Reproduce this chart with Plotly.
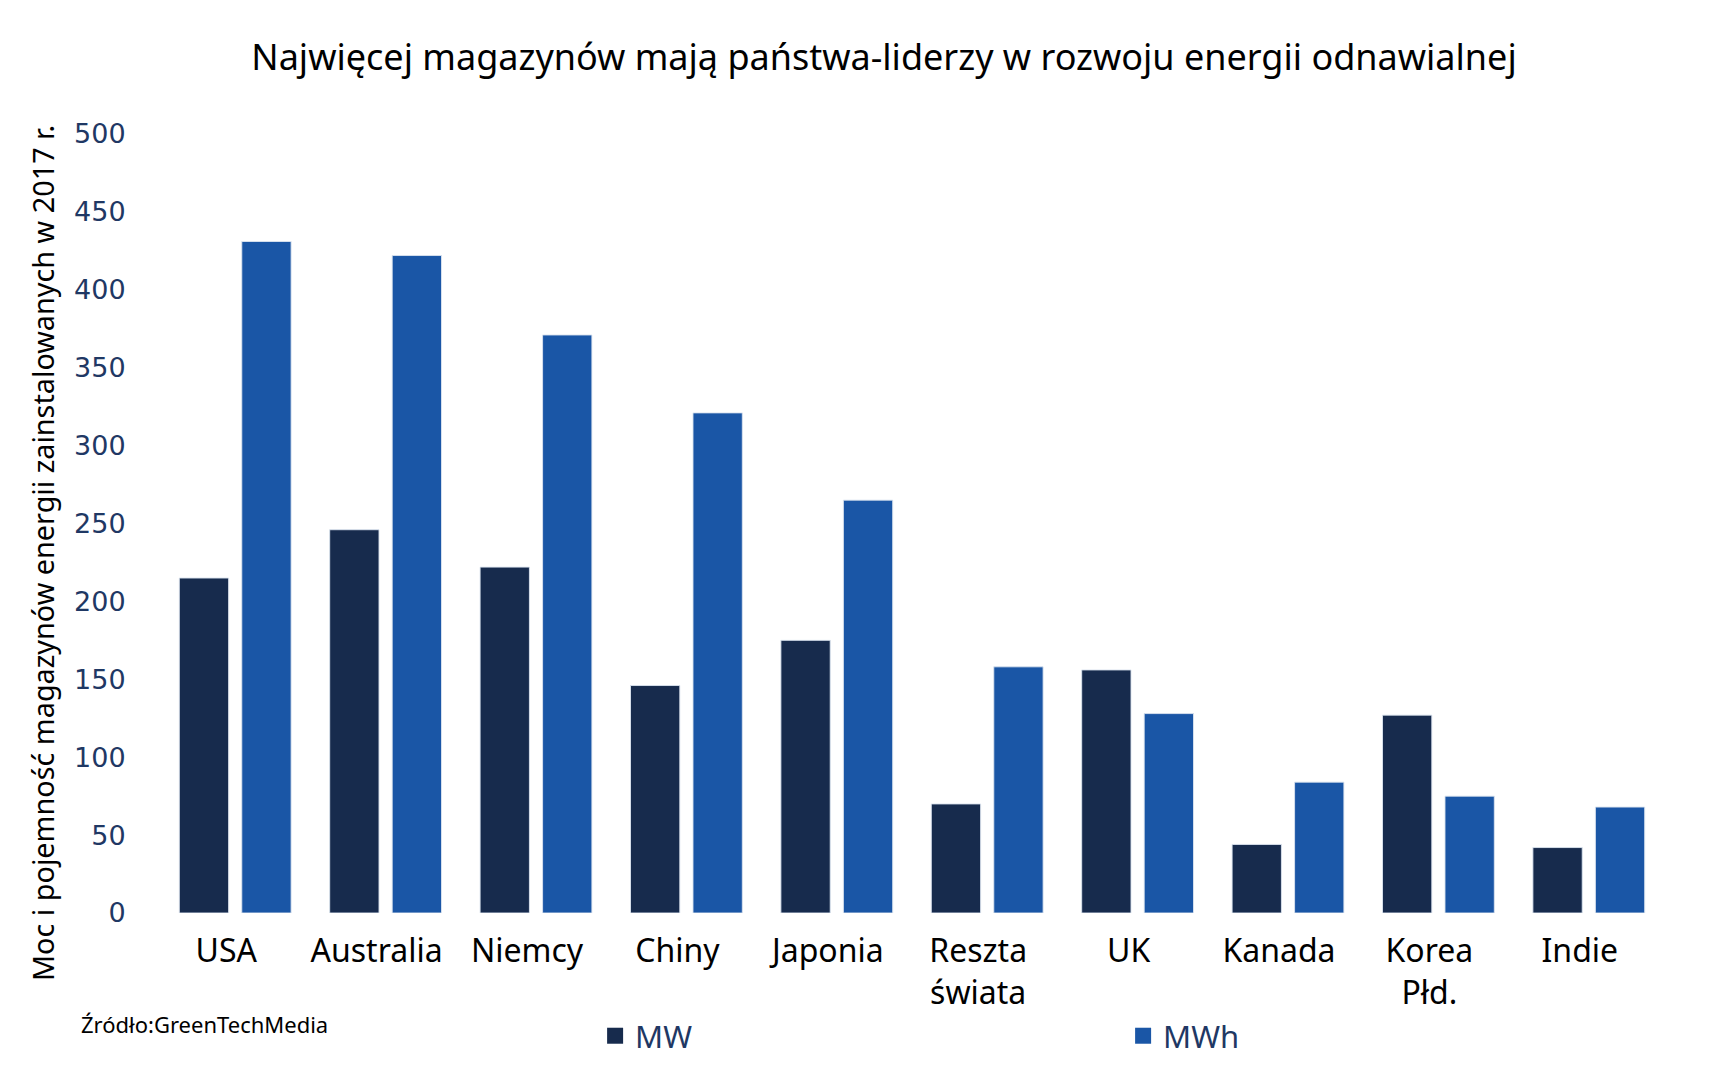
import plotly.graph_objects as go

categories = ["USA", "Australia", "Niemcy", "Chiny", "Japonia", "Reszta<br>świata",
              "UK", "Kanada", "Korea<br>Płd.", "Indie"]
mw = [215, 246, 222, 146, 175, 70, 156, 44, 127, 42]
mwh = [431, 422, 371, 321, 265, 158, 128, 84, 75, 68]
y_ticks = [0, 50, 100, 150, 200, 250, 300, 350, 400, 450, 500]

title_text = "Najwięcej magazynów mają państwa-liderzy w rozwoju energii odnawialnej"
y_title = "Moc i pojemność magazynów energii zainstalowanych w 2017 r."
source_text = "Źródło:GreenTechMedia"

C_MW = "#172B4D"
C_MWH = "#1A56A6"
NAVY = "#1F3864"

fig = go.Figure()
fig.add_trace(go.Bar(name="MW", x=categories, y=mw, marker_color=C_MW, showlegend=False,
                     marker_line=dict(color="rgba(220,228,240,0.9)", width=1)))
fig.add_trace(go.Bar(name="MWh", x=categories, y=mwh, marker_color=C_MWH, showlegend=False,
                     marker_line=dict(color="rgba(220,228,240,0.9)", width=1)))
# legend entries with larger square swatches
for nm, col in (("MW", C_MW), ("MWh", C_MWH)):
    fig.add_trace(go.Scatter(name=nm, x=[None], y=[None], mode="markers",
                             marker=dict(symbol="square", size=16, color=col)))

fig.update_layout(
    width=1722, height=1070,
    margin=dict(l=160, r=58, t=134, b=157, autoexpand=False),
    paper_bgcolor="white", plot_bgcolor="white",
    barmode="group", bargap=0.169, bargroupgap=0.211,
    title=dict(text=title_text, x=884/1722, xanchor="center", y=1-57/1070, yanchor="middle",
               font=dict(family="Noto Sans", size=36, color="black")),
    font=dict(family="Noto Sans"),
    showlegend=True,
    legend=dict(orientation="h", x=0.2893, xanchor="left", y=-0.158, yanchor="middle",
                font=dict(family="Noto Sans", size=31, color=NAVY),
                entrywidth=483, entrywidthmode="pixels", traceorder="normal"),
    xaxis=dict(showgrid=False, zeroline=False, showline=False, automargin=False,
               ticks="outside", ticklen=10, tickcolor="rgba(0,0,0,0)",
               ticklabelshift=-9,
               tickfont=dict(family="Noto Sans", size=32, color="black")),
    yaxis=dict(range=[0, 500], tickvals=y_ticks, showgrid=False, zeroline=False, showline=False,
               automargin=False,
               ticks="outside", ticklen=28, tickcolor="rgba(0,0,0,0)",
               tickfont=dict(family="DejaVu Sans", size=27, color=NAVY)),
)

fig.add_annotation(text=y_title, textangle=-90, xref="paper", yref="paper",
                   x=(42-160)/1504, y=(913-553)/779, xanchor="center", yanchor="middle",
                   showarrow=False,
                   font=dict(family="Noto Sans", size=28.8, color="black"))
fig.add_annotation(text=source_text, xref="paper", yref="paper",
                   x=(79-160)/1504, y=(913-1024)/779, xanchor="left", yanchor="middle",
                   showarrow=False,
                   font=dict(family="Noto Sans", size=22, color="black"))

fig.write_html("out.html")
